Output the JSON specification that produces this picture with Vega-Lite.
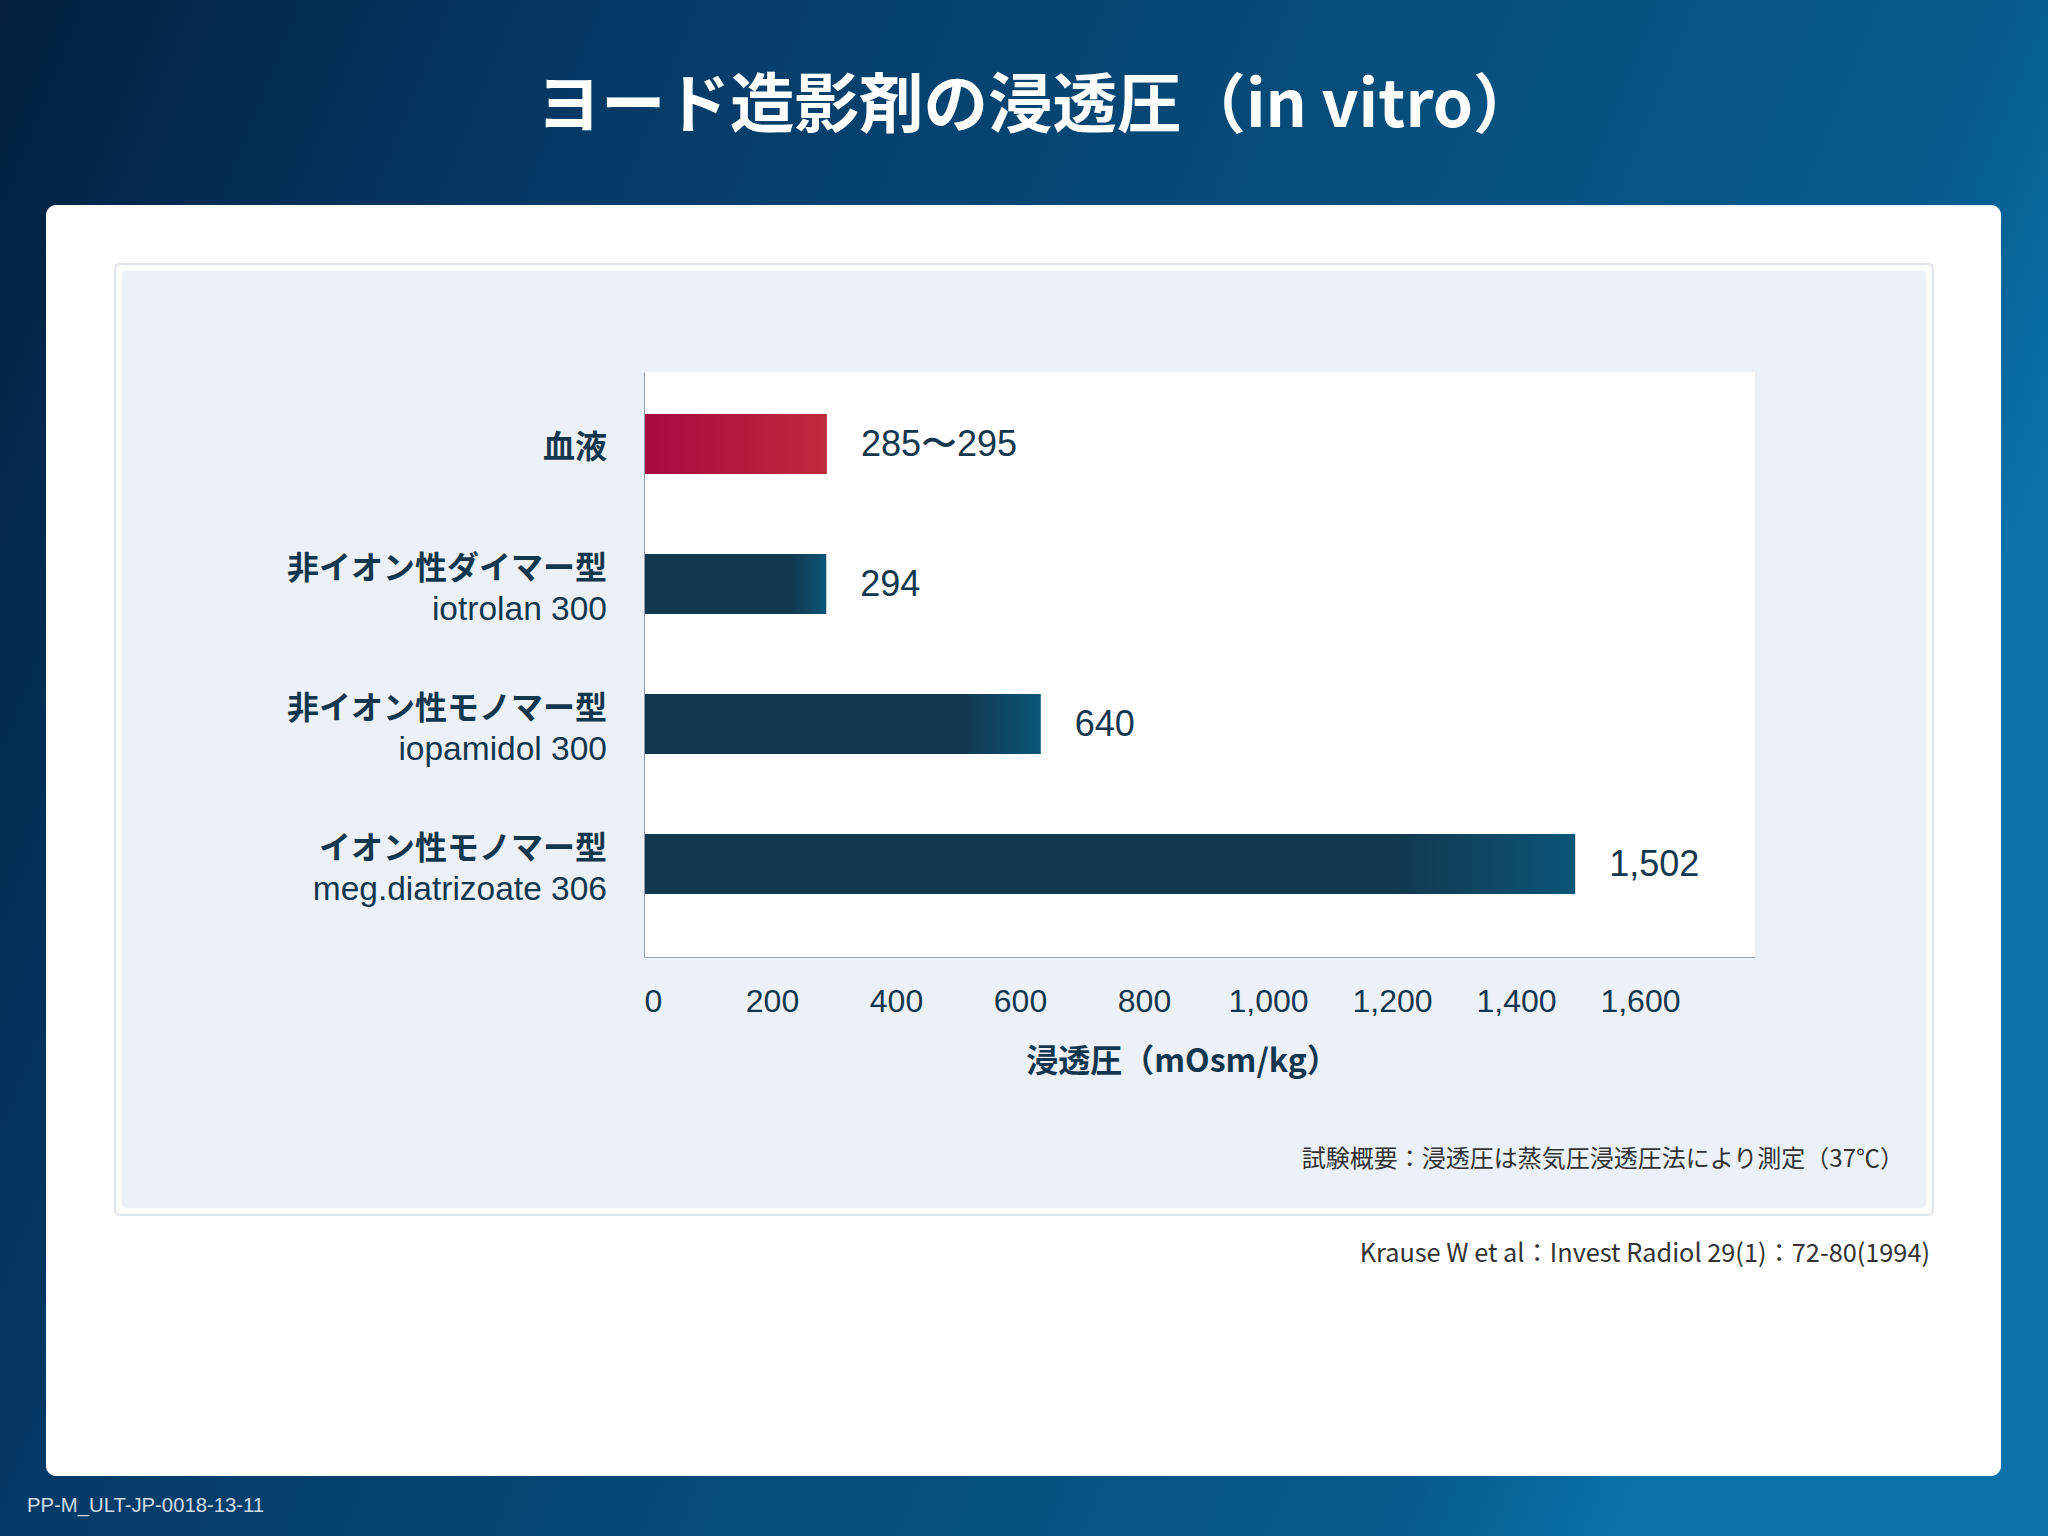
{
  "$schema": "https://vega.github.io/schema/vega-lite/v6.json",
  "width": 1111,
  "height": 585,
  "autosize": {"type": "none"},
  "padding": {"left": 644, "top": 372, "right": 293, "bottom": 579},
  "background": "#063a63",
  "title": {
    "text": "ヨード造影剤の浸透圧（in vitro）",
    "anchor": "middle",
    "frame": "bounds",
    "font": "Noto Sans CJK JP",
    "fontSize": 64.5,
    "fontWeight": "bold",
    "color": "#ffffff",
    "baseline": "middle",
    "offset": -172,
    "dx": 13,
    "zindex": 2
  },
  "config": {
    "view": {"stroke": null, "fill": null}
  },
  "data": {
    "values": [
      {"name_ja": "血液", "name_en": "", "osm": 295, "label": "285〜295", "group": "blood"},
      {"name_ja": "非イオン性ダイマー型", "name_en": "iotrolan 300", "osm": 294, "label": "294", "group": "contrast"},
      {"name_ja": "非イオン性モノマー型", "name_en": "iopamidol 300", "osm": 640, "label": "640", "group": "contrast"},
      {"name_ja": "イオン性モノマー型", "name_en": "meg.diatrizoate 306", "osm": 1502, "label": "1,502", "group": "contrast"}
    ]
  },
  "encoding": {
    "y": {
      "field": "name_ja",
      "type": "nominal",
      "sort": ["血液", "非イオン性ダイマー型", "非イオン性モノマー型", "イオン性モノマー型"],
      "scale": {"paddingInner": 0.5714, "paddingOuter": 0.375, "align": 0.4},
      "axis": {"labels": false, "ticks": false, "title": null, "domain": true, "domainColor": "#8e9cab", "domainWidth": 1, "zindex": 1}
    }
  },
  "layer": [
    {
      "data": {"values": [{}]},
      "mark": {"type": "rect", "fill": {"gradient": "linear", "x1": 0, "y1": 0, "x2": 1, "y2": 0.3, "stops": [{"offset": 0, "color": "#03203f"}, {"offset": 0.28, "color": "#053a66"}, {"offset": 0.9, "color": "#065c8c"}, {"offset": 1, "color": "#0a72a8"}]}},
      "encoding": {"y": {"value": -372}, "y2": {"value": 1164}, "x": {"value": -644}, "x2": {"value": 1404}}
    },
    {
      "data": {"values": [{}]},
      "mark": {"type": "rect", "fill": "#ffffff", "cornerRadius": 10},
      "encoding": {"y": {"value": -167}, "y2": {"value": 1104}, "x": {"value": -598}, "x2": {"value": 1357}}
    },
    {
      "data": {"values": [{}]},
      "mark": {"type": "rect", "fill": "#ffffff", "stroke": "#dfe4ea", "strokeWidth": 2, "cornerRadius": 5},
      "encoding": {"y": {"value": -108}, "y2": {"value": 843}, "x": {"value": -529}, "x2": {"value": 1289}}
    },
    {
      "data": {"values": [{}]},
      "mark": {"type": "rect", "fill": "#ecf1f7", "cornerRadius": 3},
      "encoding": {"y": {"value": -101}, "y2": {"value": 836}, "x": {"value": -522}, "x2": {"value": 1282}}
    },
    {
      "data": {"values": [{}]},
      "mark": {"type": "rect", "fill": "#ffffff"},
      "encoding": {"y": null}
    },
    {
      "transform": [{"filter": "datum.group === 'blood'"}],
      "mark": {"type": "bar", "fill": {"gradient": "linear", "x1": 0, "y1": 0, "x2": 1, "y2": 0, "stops": [{"offset": 0, "color": "#a60b41"}, {"offset": 1, "color": "#bf2a3c"}]}},
      "encoding": {"x": {"field": "osm", "type": "quantitative", "scale": {"domain": [0, 1792], "nice": false}, "axis": {"zindex": 1, "values": [0, 200, 400, 600, 800, 1000, 1200, 1400, 1600], "format": ",d", "labelFont": "Liberation Sans", "labelFontSize": 32, "labelColor": "#13374f", "labelPadding": 29, "labelOffset": {"condition": {"test": "datum.value === 0", "value": 0}, "value": 4}, "labelFlush": true, "ticks": false, "tickSize": 0, "grid": false, "domain": true, "domainColor": "#9aa7b4", "title": "浸透圧（mOsm/kg）", "titleFont": "Noto Sans CJK JP", "titleFontSize": 32, "titleFontWeight": "bold", "titleColor": "#13374f", "titlePadding": 29, "titleX": 538, "titleAlign": "center", "titleAnchor": "middle"}}}
    },
    {
      "transform": [{"filter": "datum.group === 'contrast'"}],
      "mark": {"type": "bar", "fill": {"gradient": "linear", "x1": 0, "y1": 0, "x2": 1, "y2": 0, "stops": [{"offset": 0, "color": "#12384f"}, {"offset": 0.8, "color": "#12384f"}, {"offset": 1, "color": "#0b5577"}]}},
      "encoding": {"x": {"field": "osm", "type": "quantitative"}}
    },
    {
      "mark": {"type": "text", "align": "left", "baseline": "middle", "dx": 34, "dy": 1, "font": "Liberation Sans", "fontSize": 36, "color": "#13374f"},
      "encoding": {"x": {"field": "osm", "type": "quantitative"}, "text": {"field": "label"}}
    },
    {
      "transform": [{"filter": "datum.group === 'blood'"}],
      "mark": {"type": "text", "align": "right", "baseline": "middle", "dx": -37, "dy": 4, "font": "Noto Sans CJK JP", "fontWeight": "bold", "fontSize": 32, "color": "#13374f"},
      "encoding": {"x": {"datum": 0}, "text": {"field": "name_ja"}}
    },
    {
      "transform": [{"filter": "datum.group === 'contrast'"}],
      "mark": {"type": "text", "align": "right", "baseline": "middle", "dx": -37, "dy": -15, "font": "Noto Sans CJK JP", "fontWeight": "bold", "fontSize": 32, "color": "#13374f"},
      "encoding": {"x": {"datum": 0}, "text": {"field": "name_ja"}}
    },
    {
      "transform": [{"filter": "datum.name_en !== ''"}],
      "mark": {"type": "text", "align": "right", "baseline": "middle", "dx": -37, "dy": 26, "font": "Liberation Sans", "fontSize": 33.5, "color": "#13374f"},
      "encoding": {"x": {"datum": 0}, "text": {"field": "name_en"}}
    },
    {
      "data": {"values": [{"t": "試験概要：浸透圧は蒸気圧浸透圧法により測定（37℃）"}]},
      "mark": {"type": "text", "align": "right", "baseline": "middle", "font": "Noto Sans CJK JP", "fontSize": 24, "color": "#333333"},
      "encoding": {"y": {"value": 788}, "x": {"value": 1260}, "text": {"field": "t"}}
    },
    {
      "data": {"values": [{"t": "Krause W et al：Invest Radiol 29(1)：72-80(1994)"}]},
      "mark": {"type": "text", "align": "right", "baseline": "middle", "font": "Noto Sans CJK JP", "fontSize": 25.3, "color": "#333333"},
      "encoding": {"y": {"value": 882}, "x": {"value": 1286}, "text": {"field": "t"}}
    },
    {
      "data": {"values": [{"t": "PP-M_ULT-JP-0018-13-11"}]},
      "mark": {"type": "text", "align": "left", "baseline": "middle", "font": "Liberation Sans", "fontSize": 20.3, "color": "#cfdbe7"},
      "encoding": {"y": {"value": 1134}, "x": {"value": -617}, "text": {"field": "t"}}
    }
  ]
}
